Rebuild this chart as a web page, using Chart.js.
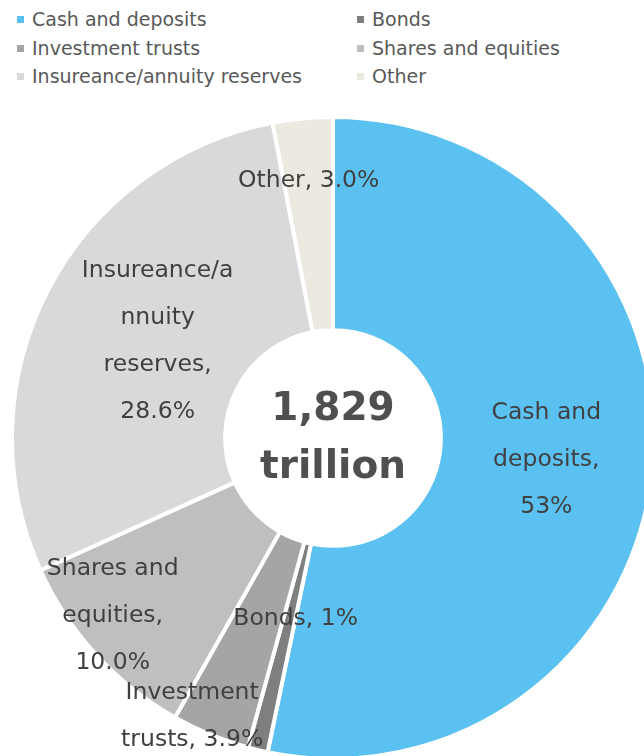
<!DOCTYPE html>
<html>
<head>
<meta charset="utf-8">
<script src="https://cdn.jsdelivr.net/npm/chart.js@4.4.0/dist/chart.umd.min.js"></script>
<style>
  html, body { margin: 0; padding: 0; background: #fff; }
  #page { position: relative; width: 644px; height: 756px; overflow: hidden; }
  #legend { position: absolute; left: 0; top: 0; width: 644px; font-family: "DejaVu Sans", sans-serif; font-size: 19px; color: #595959; }
  .item { position: absolute; height: 28px; line-height: 28px; white-space: nowrap; }
  .item span.box { position: absolute; left: 0; top: 11px; width: 7px; height: 7px; }
  .item span.txt { position: absolute; left: 15px; top: 0; }
  #wrap { position: absolute; left: 10px; top: 115px; width: 646px; height: 646px; }
</style>
</head>
<body>
<div id="page">
  <div id="legend"></div>
  <div id="wrap"><canvas id="chart" width="646" height="646"></canvas></div>
</div>
<script>
// data
const categories = ['Cash and deposits', 'Bonds', 'Investment trusts', 'Shares and equities', 'Insureance/annuity reserves', 'Other'];
const shares = [53, 1, 3.9, 10.0, 28.6, 3.0];
const labelLines = [
  ['Cash and', 'deposits,', '53%'],
  ['Bonds, 1%'],
  ['Investment', 'trusts, 3.9%'],
  ['Shares and', 'equities,', '10.0%'],
  ['Insureance/a', 'nnuity', 'reserves,', '28.6%'],
  ['Other, 3.0%']
];
const centerLines = ['1,829', 'trillion'];

// styling
const colors = ['#5bc1f1', '#7f7f7f', '#a5a5a5', '#bfbfbf', '#d9d9d9', '#ebe9e0'];
// nudges of each data label away from the slice centroid (Excel-style placement)
const labelNudge = [[0, 0], [13, -28], [-59, 80], [-62, 33], [15, 2], [-4, -44]];

// legend, two columns
const legend = document.getElementById('legend');
categories.forEach((name, i) => {
  const el = document.createElement('div');
  el.className = 'item';
  el.style.left = (i % 2 === 0 ? 17 : 357) + 'px';
  el.style.top = (5 + Math.floor(i / 2) * 28.5) + 'px';
  el.innerHTML = '<span class="box" style="background:' + colors[i] + '"></span><span class="txt">' + name + '</span>';
  legend.appendChild(el);
});

const sliceLabels = {
  id: 'sliceLabels',
  afterDatasetsDraw(chart) {
    const ctx = chart.ctx;
    const meta = chart.getDatasetMeta(0);
    const lh = 47;
    ctx.save();
    ctx.font = '23.5px "DejaVu Sans", sans-serif';
    ctx.fillStyle = '#404040';
    ctx.textAlign = 'center';
    ctx.textBaseline = 'middle';
    meta.data.forEach((arc, i) => {
      const p = arc.tooltipPosition();
      const lines = labelLines[i];
      const x = p.x + labelNudge[i][0];
      const y0 = p.y + labelNudge[i][1] - (lines.length - 1) * lh / 2;
      lines.forEach((t, k) => ctx.fillText(t, x, y0 + k * lh));
    });
    // total in the hole
    const c = meta.data[0];
    ctx.font = 'bold 39px "DejaVu Sans", sans-serif';
    ctx.fillStyle = '#4f4f4f';
    ctx.fillText(centerLines[0], c.x, c.y - 28);
    ctx.fillText(centerLines[1], c.x, c.y + 30);
    ctx.restore();
  }
};

new Chart(document.getElementById('chart'), {
  type: 'doughnut',
  data: {
    labels: categories,
    datasets: [{
      data: shares,
      backgroundColor: colors,
      borderColor: '#ffffff',
      borderWidth: 4
    }]
  },
  options: {
    responsive: false,
    animation: false,
    cutout: '33.6%',
    layout: { padding: 0 },
    plugins: {
      legend: { display: false },
      tooltip: { enabled: false }
    }
  },
  plugins: [sliceLabels]
});
</script>
</body>
</html>
